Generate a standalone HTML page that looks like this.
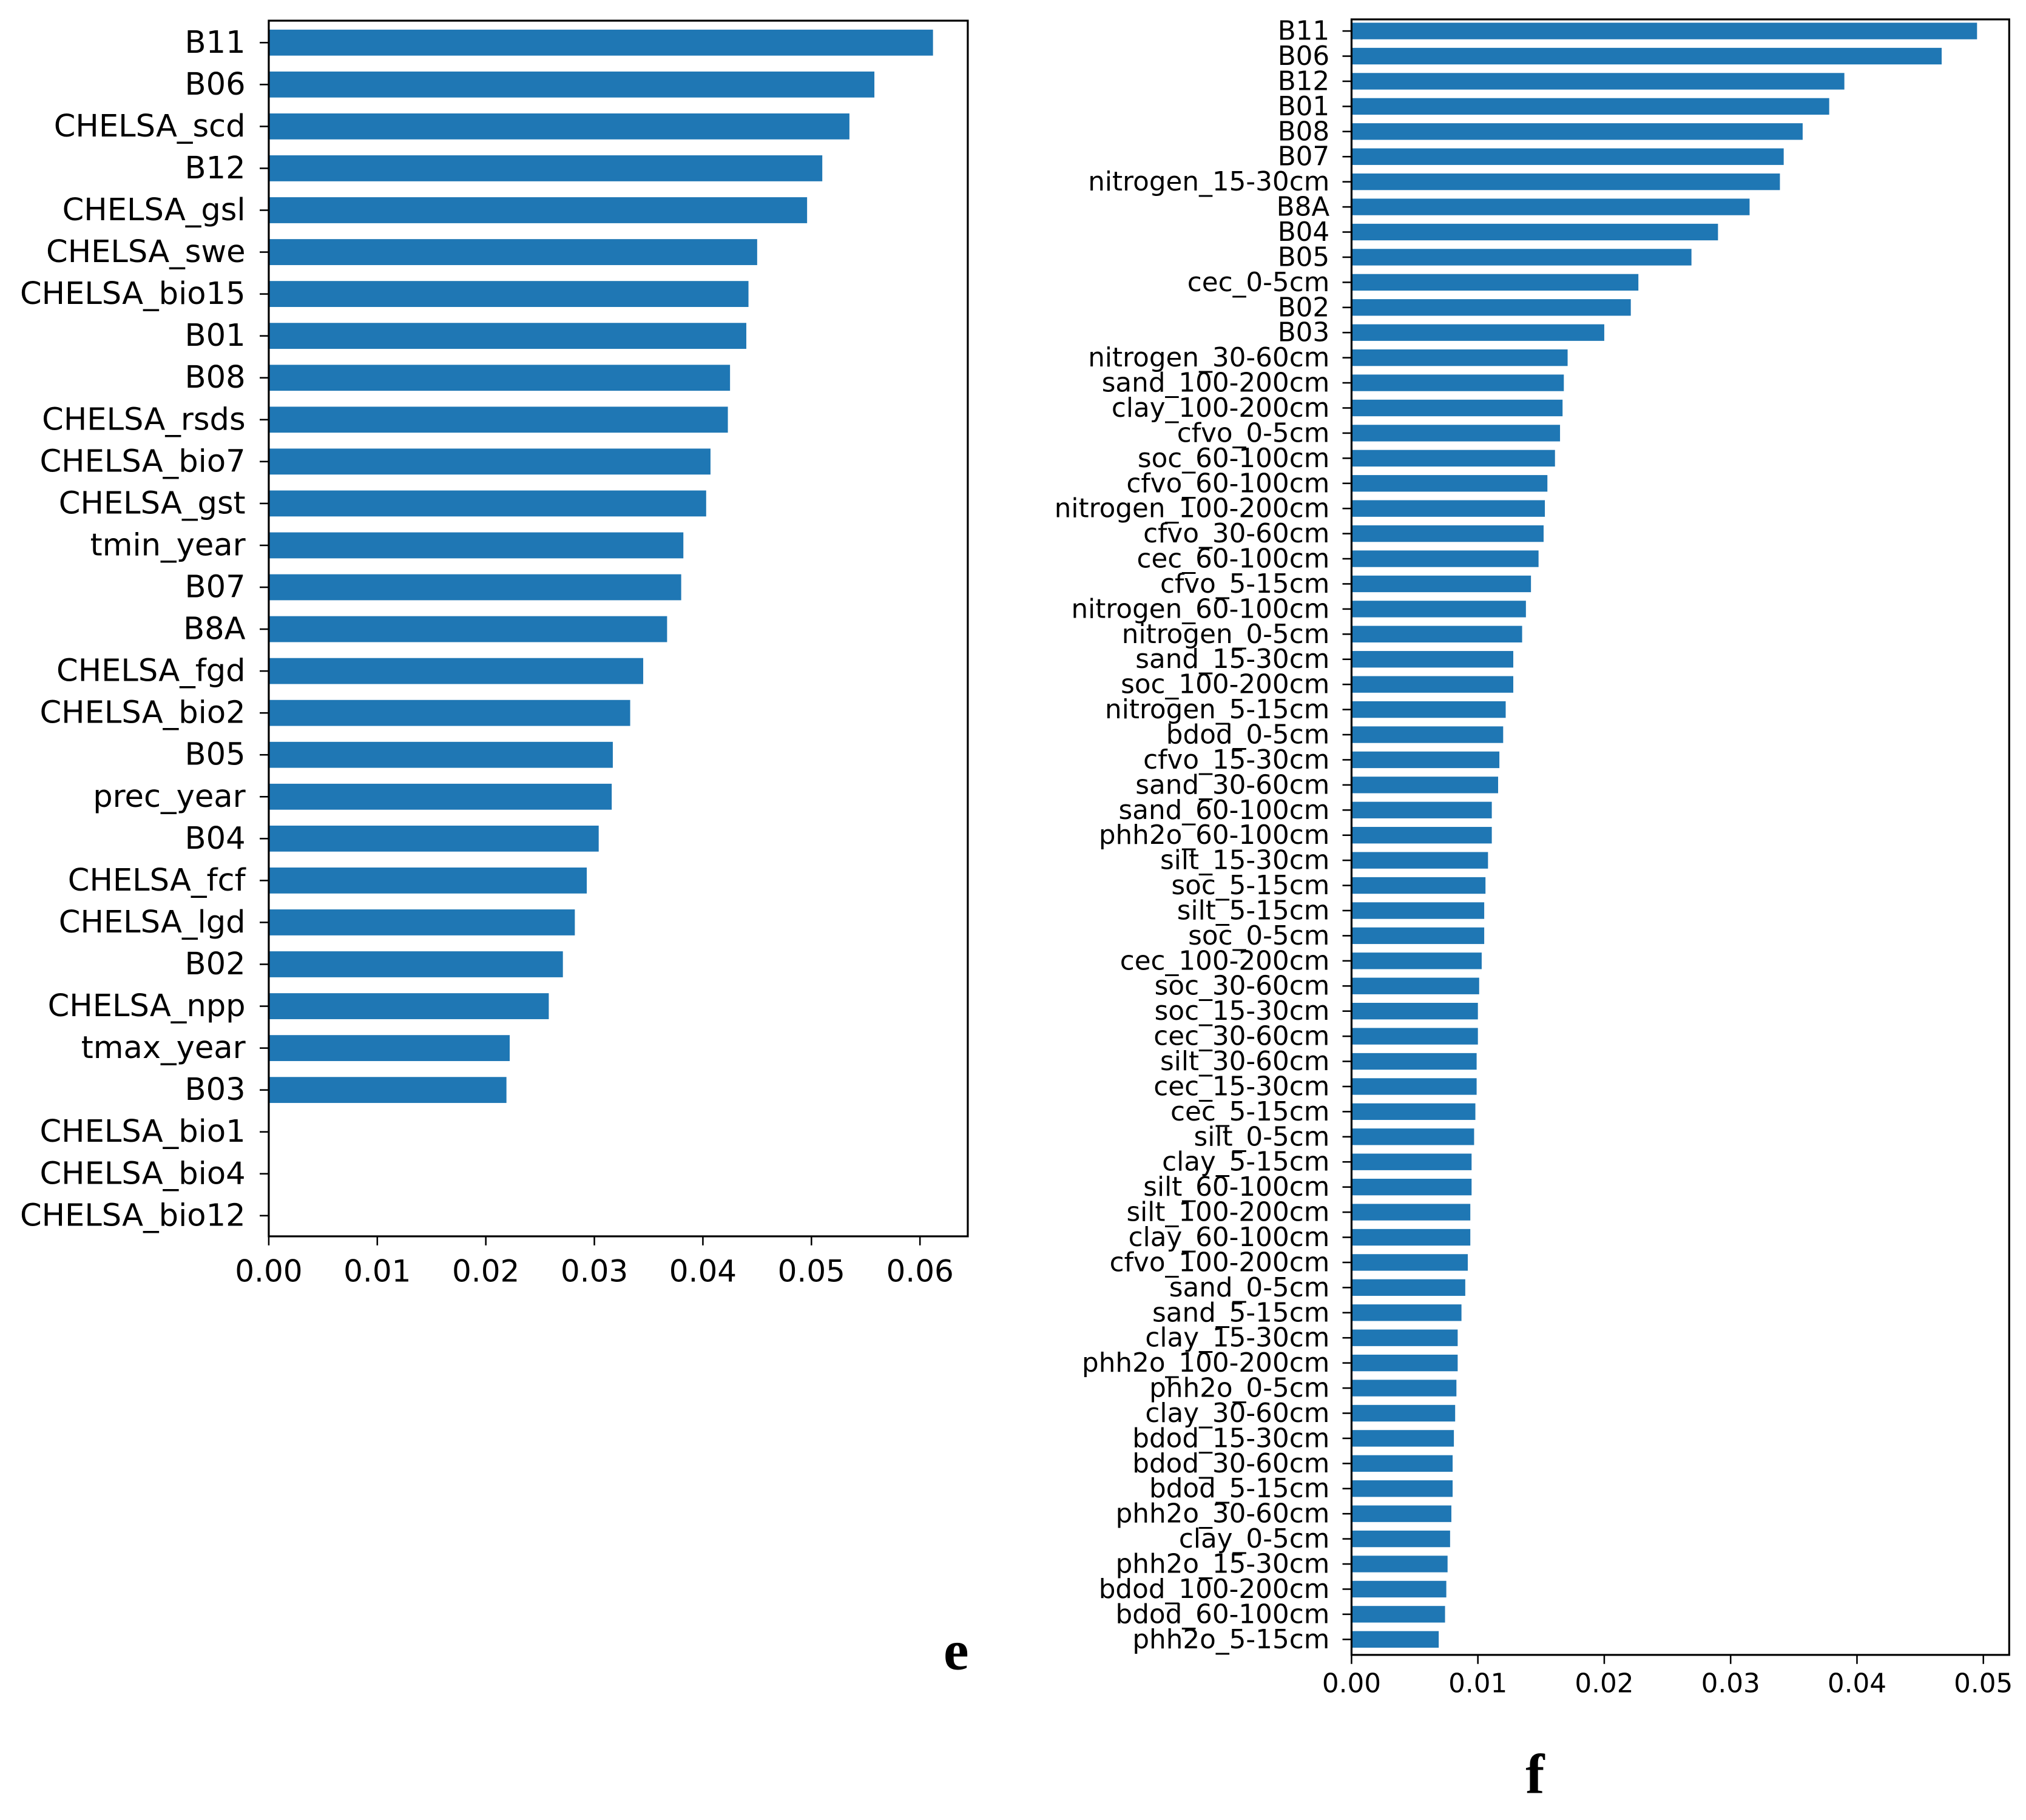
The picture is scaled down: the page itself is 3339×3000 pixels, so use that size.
<!DOCTYPE html>
<html><head><meta charset="utf-8"><style>
html,body{margin:0;padding:0;background:#fff;}
svg{display:block;}
text{font-family:"DejaVu Sans","Liberation Sans",sans-serif;fill:#000;}
text.panel{font-family:"Liberation Serif","DejaVu Serif",serif;font-weight:bold;}
</style></head><body>
<svg id="fig" width="3339" height="3000" viewBox="0 0 1568 1408.8" preserveAspectRatio="none" xmlns="http://www.w3.org/2000/svg">
<g id="chartE"></g>
<g id="chartF"></g>
<text class="panel" x="740" y="1292" font-size="44" text-anchor="middle">e</text>
<text class="panel" x="1188" y="1388" font-size="44" text-anchor="middle">f</text>
</svg>
<script>
const eCategories = ["B11","B06","CHELSA_scd","B12","CHELSA_gsl","CHELSA_swe","CHELSA_bio15","B01","B08","CHELSA_rsds","CHELSA_bio7","CHELSA_gst","tmin_year","B07","B8A","CHELSA_fgd","CHELSA_bio2","B05","prec_year","B04","CHELSA_fcf","CHELSA_lgd","B02","CHELSA_npp","tmax_year","B03","CHELSA_bio1","CHELSA_bio4","CHELSA_bio12"];
const eValues = [0.0612,0.0558,0.0535,0.0510,0.0496,0.0450,0.0442,0.0440,0.0425,0.0423,0.0407,0.0403,0.0382,0.0380,0.0367,0.0345,0.0333,0.0317,0.0316,0.0304,0.0293,0.0282,0.0271,0.0258,0.0222,0.0219,0,0,0];
const eTicks = [0,0.01,0.02,0.03,0.04,0.05,0.06];
const eTickLabels = ["0.00","0.01","0.02","0.03","0.04","0.05","0.06"];

const fCategories = ["B11","B06","B12","B01","B08","B07","nitrogen_15-30cm","B8A","B04","B05","cec_0-5cm","B02","B03","nitrogen_30-60cm","sand_100-200cm","clay_100-200cm","cfvo_0-5cm","soc_60-100cm","cfvo_60-100cm","nitrogen_100-200cm","cfvo_30-60cm","cec_60-100cm","cfvo_5-15cm","nitrogen_60-100cm","nitrogen_0-5cm","sand_15-30cm","soc_100-200cm","nitrogen_5-15cm","bdod_0-5cm","cfvo_15-30cm","sand_30-60cm","sand_60-100cm","phh2o_60-100cm","silt_15-30cm","soc_5-15cm","silt_5-15cm","soc_0-5cm","cec_100-200cm","soc_30-60cm","soc_15-30cm","cec_30-60cm","silt_30-60cm","cec_15-30cm","cec_5-15cm","silt_0-5cm","clay_5-15cm","silt_60-100cm","silt_100-200cm","clay_60-100cm","cfvo_100-200cm","sand_0-5cm","sand_5-15cm","clay_15-30cm","phh2o_100-200cm","phh2o_0-5cm","clay_30-60cm","bdod_15-30cm","bdod_30-60cm","bdod_5-15cm","phh2o_30-60cm","clay_0-5cm","phh2o_15-30cm","bdod_100-200cm","bdod_60-100cm","phh2o_5-15cm"];
const fValues = [0.0495,0.0467,0.0390,0.0378,0.0357,0.0342,0.0339,0.0315,0.0290,0.0269,0.0227,0.0221,0.0200,0.0171,0.0168,0.0167,0.0165,0.0161,0.0155,0.0153,0.0152,0.0148,0.0142,0.0138,0.0135,0.0128,0.0128,0.0122,0.0120,0.0117,0.0116,0.0111,0.0111,0.0108,0.0106,0.0105,0.0105,0.0103,0.0101,0.0100,0.0100,0.0099,0.0099,0.0098,0.0097,0.0095,0.0095,0.0094,0.0094,0.0092,0.0090,0.0087,0.0084,0.0084,0.0083,0.0082,0.0081,0.0080,0.0080,0.0079,0.0078,0.0076,0.0075,0.0074,0.0069];
const fTicks = [0,0.01,0.02,0.03,0.04,0.05];
const fTickLabels = ["0.00","0.01","0.02","0.03","0.04","0.05"];

const NS = "http://www.w3.org/2000/svg";
function mk(tag, attrs, parent){const el=document.createElementNS(NS,tag);for(const k in attrs)el.setAttribute(k,attrs[k]);parent.appendChild(el);return el;}

function drawChart(g, cats, vals, ticks, tickLabels, box, opts){
  const xScale = v => box.left + (v - 0) * opts.pxPerUnit;
  const n = cats.length;
  const step = (opts.lastY - opts.firstY)/(n-1);
  const yScale = i => opts.firstY + i*step;
  const bh = step*opts.barFrac;
  cats.forEach((c,i)=>{
    const y = yScale(i);
    if (vals[i] > 0) {
      const r = mk('rect',{x:xScale(0),y:y-bh/2,width:xScale(vals[i])-xScale(0),height:bh,fill:'#1f77b4'},g);
      
      
    }
    const t = mk('line',{x1:box.left-opts.tick,y1:y,x2:box.left,y2:y,stroke:'#000','stroke-width':1.2},g);
    
    
    const lb = mk('text',{x:box.left-opts.labelGap,y:y,'font-size':opts.yfs,'text-anchor':'end','dominant-baseline':'central'},g);
    lb.textContent = c;
    
    
  });
  ticks.forEach((v,i)=>{
    const x = xScale(v);
    const t = mk('line',{x1:x,y1:box.bottom,x2:x,y2:box.bottom+opts.tick,stroke:'#000','stroke-width':1.2},g);
    
    
    const lb = mk('text',{x:x,y:box.bottom+opts.xLabelY,'font-size':opts.xfs,'text-anchor':'middle'},g);
    lb.textContent = tickLabels[i];
    
    
  });
  const frame = mk('rect',{x:box.left,y:box.top,width:box.right-box.left,height:box.bottom-box.top,fill:'none',stroke:'#000','stroke-width':1.5},g);
  
  
}

drawChart(document.getElementById('chartE'), eCategories, eValues, eTicks, eTickLabels,
  {left:208,right:749,top:16,bottom:957},
  {pxPerUnit:8400, firstY:33, lastY:941, barFrac:0.62, tick:7, labelGap:18, yfs:24, xfs:23.5, xLabelY:35});
drawChart(document.getElementById('chartF'), fCategories, fValues, fTicks, fTickLabels,
  {left:1046,right:1555,top:15,bottom:1281},
  {pxPerUnit:9780, firstY:24, lastY:1269, barFrac:0.66, tick:7, labelGap:17, yfs:20.5, xfs:20.5, xLabelY:29});
</script>
</body></html>
